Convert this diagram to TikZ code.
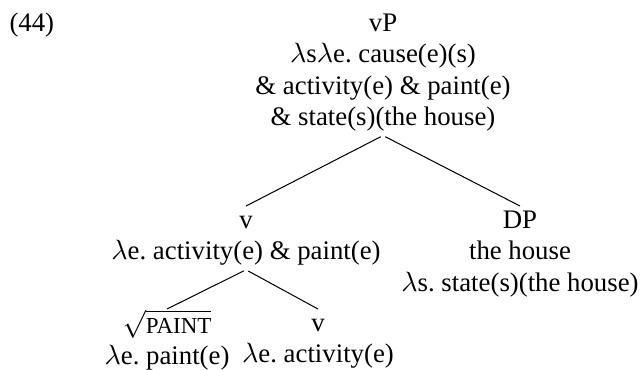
\documentclass[tikz,border=0pt]{standalone}
\usepackage{fontspec}
\setmainfont{Liberation Serif}
\usepackage{tikz}

\frenchspacing
\newcommand{\lam}{$\lambda$}
\newcommand{\rootof}[1]{$\sqrt{\hbox{\fontsize{9}{9}\selectfont #1}}$}

\begin{document}
\begin{tikzpicture}[x=0.392pt, y=-0.392pt]
  \tikzset{
    tnode/.style={
      anchor=north, align=center, inner sep=0pt,
      font=\fontsize{10.5}{12.3}\selectfont
    },
    branch/.style={line width=0.4pt, shorten <=1pt}
  }

  \useasboundingbox (0,0) rectangle (641,369);

  \node[anchor=base west, inner sep=0pt, font=\fontsize{10.5}{12.3}\selectfont] (exnum) at (9,31) {(44)};

  \node[tnode] (vp) at (383,9) {\strut vP\\ \lam s\lam e. cause(e)(s)\\ \& activity(e) \& paint(e)\\ \& state(s)(the house)\strut};
  \node[tnode] (v) at (246,206) {\strut v\\ \lam e. activity(e) \& paint(e)\strut};
  \node[tnode] (dp) at (520,206) {\strut DP\\ the house\\ \lam s. state(s)(the house)\strut};
  \node[tnode] (paint) at (167,309) {\strut\rootof{PAINT}\\ \lam e. paint(e)\strut};
  \node[tnode] (vhead) at (318,309) {\strut v\\ \lam e. activity(e)\strut};

  \draw[branch] (vp.south) -- (v.north);
  \draw[branch] (vp.south) -- (dp.north);
  \draw[branch] (v.south) -- (paint.north);
  \draw[branch] (v.south) -- (vhead.north);
\end{tikzpicture}
\end{document}
